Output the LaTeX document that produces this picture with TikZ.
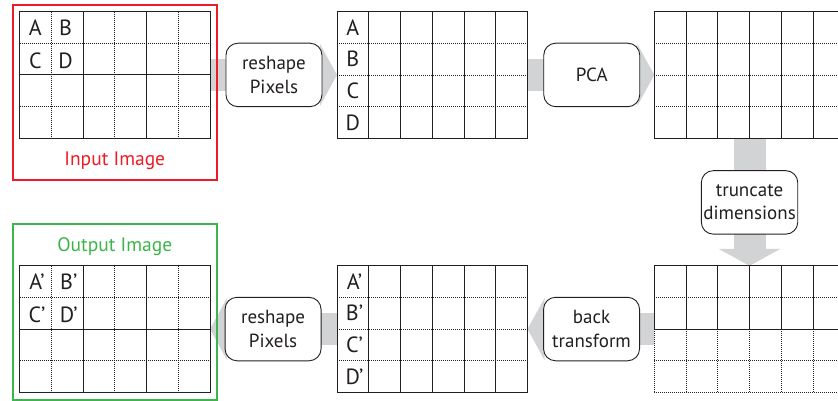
\documentclass[tikz,border=0pt]{standalone}
\usepackage{fontspec}
\setmainfont{PT Sans}
\usepackage{tikz}
\usetikzlibrary{positioning, arrows.meta, calc, backgrounds}
\definecolor{pcaInk}{HTML}{231F20}
\definecolor{pcaGray}{HTML}{D1D3D4}
\definecolor{pcaRed}{HTML}{ED1C24}
\definecolor{pcaGreen}{HTML}{3DB54A}
\newcommand{\cellw}{31.75}
\newcommand{\cellh}{31.625}
\tikzset{
  pixgrid/.style={
    rectangle, draw=none,
    inner sep=0pt, outer sep=0pt,
    minimum width=190.5pt, minimum height=126.5pt,
    anchor=north west
  },
  solidline/.style={draw=pcaInk, line width=0.9pt},
  dotline/.style={draw=pcaInk, line width=0.75pt, dash pattern=on 0.8pt off 1.2pt},
  stepbox/.style={
    rectangle, rounded corners=12pt,
    draw=pcaInk, line width=0.9pt,
    fill=white,
    inner sep=2pt,
    minimum width=96pt, minimum height=63.5pt,
    align=center,
    font=\fontsize{19}{23.5}\selectfont, text=pcaInk
  },
  pixlabel/.style={inner sep=0pt, font=\fontsize{22}{26}\selectfont, text=pcaInk},
  flowarrow/.style={
    -{Triangle[length=17pt, width=62pt, line width=0pt]},
    draw=pcaGray, line width=32pt
  },
  imgframe/.style={draw=#1, line width=2pt},
  framelabel/.style={anchor=base, inner sep=0pt, font=\fontsize{19.5}{23}\selectfont}
}

\begin{document}
\begin{tikzpicture}[x=1pt, y=-1pt]
  \useasboundingbox (0,0) rectangle (838,401);

  % the six pixel grids
  \node[pixgrid] (inpix) at (19.5,11.7) {};
  \node[pixgrid, right=127pt of inpix] (colA) {};
  \node[pixgrid, right=126.8pt of colA] (pcapix) {};
  \node[pixgrid, below=127.6pt of pcapix] (trpix) {};
  \node[pixgrid, left=126.8pt of trpix] (colB) {};
  \node[pixgrid, left=127pt of colB] (outpix) {};

  % processing steps
  \node[stepbox, right=15.5pt of inpix] (reshapeA) {reshape\\Pixels};
  \node[stepbox, right=15.8pt of colA] (pcabox) {PCA};
  \node[stepbox, below=32pt of pcapix] (truncbox) {truncate\\dimensions};
  \node[stepbox, left=14.3pt of trpix] (backbox) {back\\transform};
  \node[stepbox, left=15.5pt of colB] (reshapeB) {reshape\\Pixels};

  % input image
  \begin{scope}[shift={(inpix.north west)}]
    \foreach \k in {1,3,5} \draw[dotline] (\k*\cellw,0) -- (\k*\cellw,126.5);
    \foreach \k in {1,3} \draw[dotline] (0,\k*\cellh) -- (190.5,\k*\cellh);
    \foreach \k in {2,4} \draw[solidline] (\k*\cellw,0) -- (\k*\cellw,126.5);
    \draw[solidline] (0,2*\cellh) -- (190.5,2*\cellh);
    \draw[solidline] (0,0) rectangle (190.5,126.5);
    \node[pixlabel] (inA) at (0.5*\cellw,0.5*\cellh) {A};
    \node[pixlabel] (inB) at (1.45*\cellw,0.5*\cellh) {B};
    \node[pixlabel] (inC) at (0.5*\cellw,1.55*\cellh) {C};
    \node[pixlabel] (inD) at (1.45*\cellw,1.55*\cellh) {D};
  \end{scope}
  \node[framelabel, text=pcaRed] (inlabel) at ($(inpix.south)+(0,27.5)$) {Input Image};
  \draw[imgframe=pcaRed] ($(inpix.north west)+(-6.8,-7)$) rectangle ($(inpix.south east)+(6.7,41.8)$);

  % pixel columns
  \begin{scope}[shift={(colA.north west)}]
    \foreach \k in {1,2,3} \draw[dotline] (0,\k*\cellh) -- (190.5,\k*\cellh);
    \foreach \k in {1,...,5} \draw[solidline] (\k*\cellw,0) -- (\k*\cellw,126.5);
    \draw[solidline] (0,0) rectangle (190.5,126.5);
    \node[pixlabel] (colAa) at (0.5*\cellw,0.5*\cellh) {A};
    \node[pixlabel] (colAb) at (0.5*\cellw,1.5*\cellh) {B};
    \node[pixlabel] (colAc) at (0.5*\cellw,2.5*\cellh) {C};
    \node[pixlabel] (colAd) at (0.5*\cellw,3.5*\cellh) {D};
  \end{scope}

  % principal components
  \begin{scope}[shift={(pcapix.north west)}]
    \foreach \k in {1,2,3} \draw[dotline] (0,\k*\cellh) -- (190.5,\k*\cellh);
    \foreach \k in {1,...,5} \draw[solidline] (\k*\cellw,0) -- (\k*\cellw,126.5);
    \draw[solidline] (0,0) rectangle (190.5,126.5);
  \end{scope}

  % truncated components
  \begin{scope}[shift={(trpix.north west)}]
    \draw[dotline] (0,\cellh) -- (190.5,\cellh);
    \foreach \k in {1,...,5} \draw[solidline] (\k*\cellw,0) -- (\k*\cellw,2*\cellh);
    \draw[solidline] (0,0) rectangle (190.5,2*\cellh);
    \foreach \k in {0,...,6} \draw[dotline] (\k*\cellw,2*\cellh) -- (\k*\cellw,126.5);
    \foreach \k in {3,4} \draw[dotline] (0,\k*\cellh) -- (190.5,\k*\cellh);
  \end{scope}

  % restored columns
  \begin{scope}[shift={(colB.north west)}]
    \foreach \k in {1,2,3} \draw[dotline] (0,\k*\cellh) -- (190.5,\k*\cellh);
    \foreach \k in {1,...,5} \draw[solidline] (\k*\cellw,0) -- (\k*\cellw,126.5);
    \draw[solidline] (0,0) rectangle (190.5,126.5);
    \node[pixlabel] (colBa) at (0.55*\cellw,0.5*\cellh) {A’};
    \node[pixlabel] (colBb) at (0.55*\cellw,1.5*\cellh) {B’};
    \node[pixlabel] (colBc) at (0.55*\cellw,2.5*\cellh) {C’};
    \node[pixlabel] (colBd) at (0.55*\cellw,3.5*\cellh) {D’};
  \end{scope}

  % output image
  \begin{scope}[shift={(outpix.north west)}]
    \foreach \k in {1,3,5} \draw[dotline] (\k*\cellw,0) -- (\k*\cellw,126.5);
    \foreach \k in {1,3} \draw[dotline] (0,\k*\cellh) -- (190.5,\k*\cellh);
    \foreach \k in {2,4} \draw[solidline] (\k*\cellw,0) -- (\k*\cellw,126.5);
    \draw[solidline] (0,2*\cellh) -- (190.5,2*\cellh);
    \draw[solidline] (0,0) rectangle (190.5,126.5);
    \node[pixlabel] (outA) at (0.55*\cellw,0.5*\cellh) {A’};
    \node[pixlabel] (outB) at (1.55*\cellw,0.5*\cellh) {B’};
    \node[pixlabel] (outC) at (0.55*\cellw,1.55*\cellh) {C’};
    \node[pixlabel] (outD) at (1.55*\cellw,1.55*\cellh) {D’};
  \end{scope}
  \node[framelabel, text=pcaGreen] (outlabel) at ($(outpix.north)+(0,-14.1)$) {Output Image};
  \draw[imgframe=pcaGreen] ($(outpix.north west)+(-6.8,-41.8)$) rectangle ($(outpix.south east)+(7.3,7.7)$);

  % flow
  \begin{pgfonlayer}{background}
    \draw[flowarrow] (inpix.east) -- (colA.west);
    \draw[flowarrow] (colA.east) -- (pcapix.west);
    \draw[flowarrow] (pcapix.south) -- (trpix.north);
    \draw[flowarrow] (trpix.west) -- (colB.east);
    \draw[flowarrow] (colB.west) -- (outpix.east);
  \end{pgfonlayer}
\end{tikzpicture}
\end{document}
